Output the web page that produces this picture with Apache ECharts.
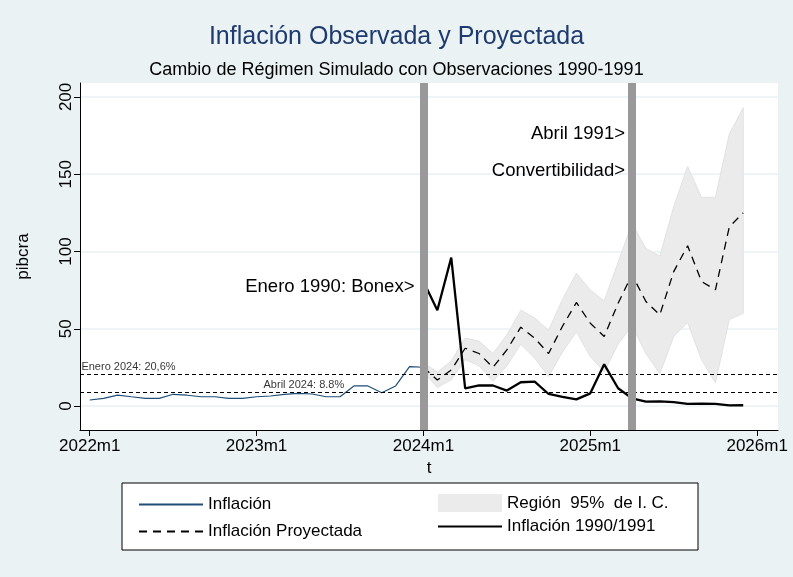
<!DOCTYPE html><html><head><meta charset="utf-8">
<script src="https://cdn.jsdelivr.net/npm/echarts@6/dist/echarts.min.js"></script>
<style>html,body{margin:0;background:#eaf2f3}#c{width:793px;height:577px}</style></head><body><div id="c"></div><script>
const xTicks=[0,12,24,36,48];
const xTickLabels=['2022m1','2023m1','2024m1','2025m1','2026m1'];
const inflacion=[3.9,5,7.1,6,5,5,7.6,7,6,6,5,5,6,6.5,7.6,8.2,7.8,6,6,13,13,8.6,13,25.5,25.1];
const proyMonths=24;
const proyectada=[25.1,16.8,23.3,37.4,34,25,36.3,51,43.9,34,51.6,67,53.6,45,66.5,85,67.6,59,87,103.7,80.6,75.2,116,125];
const upper=[28,22,29,44,42,34,46,62,57,49,69,86,75,68,93,118,102,97,129,155,135,135,176,193];
const lower=[22,12,17,30,26,16,26,40,31,19,35,48,32,22,40,52,34,21,45,54,30,15,56,60];
const inf9091=[80.6,62,96,11.5,13.3,13.3,10,15.4,15.8,7.8,6,4.3,8.2,27,11.5,5,2.9,3,2.5,1.4,1.6,1.4,0.4,0.5];
const refLines=[{v:20.6,t:'Enero 2024: 20,6%',x:-0.6},{v:8.8,t:'Abril 2024: 8.8%',x:12.5}];
const events=[24,39];
const pair=(arr,s)=>arr.map((v,i)=>[s+i,v]);
const ch=echarts.init(document.getElementById('c'));
const F='Liberation Sans';
const noSym={itemStyle:{opacity:0}};
ch.setOption({
 backgroundColor:'#eaf2f3',animation:false,textStyle:{fontFamily:F},
 title:[{text:'Inflación Observada y Proyectada',left:'center',top:20,textStyle:{fontSize:25,fontWeight:'normal',color:'#1e3a6e',fontFamily:F}},
  {text:'Cambio de Régimen Simulado con Observaciones 1990-1991',left:'center',top:56,textStyle:{fontSize:18,fontWeight:'normal',color:'#000',fontFamily:F}}],
 grid:{left:80,right:15,top:83,bottom:147,backgroundColor:'#fff',show:true,borderWidth:0},
 xAxis:{type:'value',min:-0.7,max:49.5,name:'t',nameLocation:'middle',nameGap:30,nameTextStyle:{fontSize:17,color:'#000'},
  axisLine:{onZero:false,lineStyle:{color:'#000'}},splitLine:{show:false},
  axisTick:{customValues:xTicks,length:6,lineStyle:{color:'#000'}},
  axisLabel:{customValues:xTicks,fontSize:17,color:'#000',formatter:v=>xTickLabels[xTicks.indexOf(v)]||''}},
 yAxis:{type:'value',min:-15.5,max:209,name:'pibcra',nameLocation:'middle',nameGap:48,nameTextStyle:{fontSize:17,color:'#000'},
  axisLine:{show:true,onZero:false,lineStyle:{color:'#000'}},
  axisTick:{show:true,customValues:[0,50,100,150,200],length:6,lineStyle:{color:'#000'}},
  axisLabel:{customValues:[0,50,100,150,200],fontSize:17,color:'#000',rotate:90,verticalAlign:'middle',align:'center',margin:14},
  splitLine:{show:true,customValues:[0,50,100,150,200],lineStyle:{color:'#eaf2f3',width:1.5}}},
 legend:[{orient:'vertical',left:133,top:491,itemWidth:64,itemHeight:14,itemGap:10,textStyle:{fontSize:17,color:'#000'},
   data:[{name:'Inflación',...noSym},{name:'Inflación Proyectada',...noSym}]},
  {orient:'vertical',left:432,top:489,itemWidth:64,itemHeight:18,itemGap:6,textStyle:{fontSize:17,color:'#000'},
   data:[{name:'Región  95%  de I. C.',icon:'rect',itemStyle:{color:'#ebebeb'}},{name:'Inflación 1990/1991',...noSym}]}],
 graphic:[{type:'rect',shape:{x:122,y:483,width:576,height:67},style:{fill:'#fff',stroke:'#000',lineWidth:1},z:-1}],
 series:[
  {type:'custom',name:'Región  95%  de I. C.',data:upper.map((u,i)=>[proyMonths+i,u,lower[i]]),itemStyle:{color:'#ebebeb'},z:1,silent:true,
   renderItem:(params,api)=>{
     if(params.dataIndex!==0)return null;
     const pts=[];
     for(let i=0;i<upper.length;i++)pts.push(api.coord([proyMonths+i,upper[i]]));
     for(let i=lower.length-1;i>=0;i--)pts.push(api.coord([proyMonths+i,lower[i]]));
     return {type:'polygon',shape:{points:pts},style:{fill:'#ebebeb',stroke:'#e2e2e2',lineWidth:1}};
   }},
  {type:'line',name:'Inflación',data:pair(inflacion,0),symbol:'none',lineStyle:{color:'#1f4e79',width:1.2},itemStyle:{color:'#1f4e79'},z:3},
  {type:'line',name:'Inflación Proyectada',data:pair(proyectada,proyMonths),symbol:'none',lineStyle:{color:'#000',width:1.3,type:[8,6]},itemStyle:{color:'#000'},z:3,
   markLine:{silent:true,symbol:'none',lineStyle:{color:'#000',type:[4,3],width:1.2},
    label:{show:false},data:refLines.map(r=>({yAxis:r.v}))}},
  {type:'line',name:'Inflación 1990/1991',data:pair(inf9091,proyMonths),symbol:'none',lineStyle:{color:'#000',width:2.3},itemStyle:{color:'#000'},z:4,
   markLine:{silent:true,symbol:'none',lineStyle:{color:'#999',type:'solid',width:8,opacity:1},label:{show:false},data:events.map(e=>({xAxis:e}))},
   markPoint:{symbol:'circle',symbolSize:0,data:[
    {coord:[24,77],label:{show:true,position:'left',distance:9,formatter:'Enero 1990: Bonex>',fontSize:18.5,color:'#000'}},
    {coord:[39,176],label:{show:true,position:'left',distance:7,formatter:'Abril 1991>',fontSize:18.5,color:'#000'}},
    {coord:[39,152],label:{show:true,position:'left',distance:7,formatter:'Convertibilidad>',fontSize:18.5,color:'#000'}}]}},
  {type:'scatter',data:refLines.map(r=>[r.x,r.v]),symbolSize:0,silent:true,
   label:{show:true,position:'right',distance:0,offset:[0,-7],fontSize:11,color:'#000',formatter:p=>refLines[p.dataIndex].t}}
 ]});
</script></body></html>
